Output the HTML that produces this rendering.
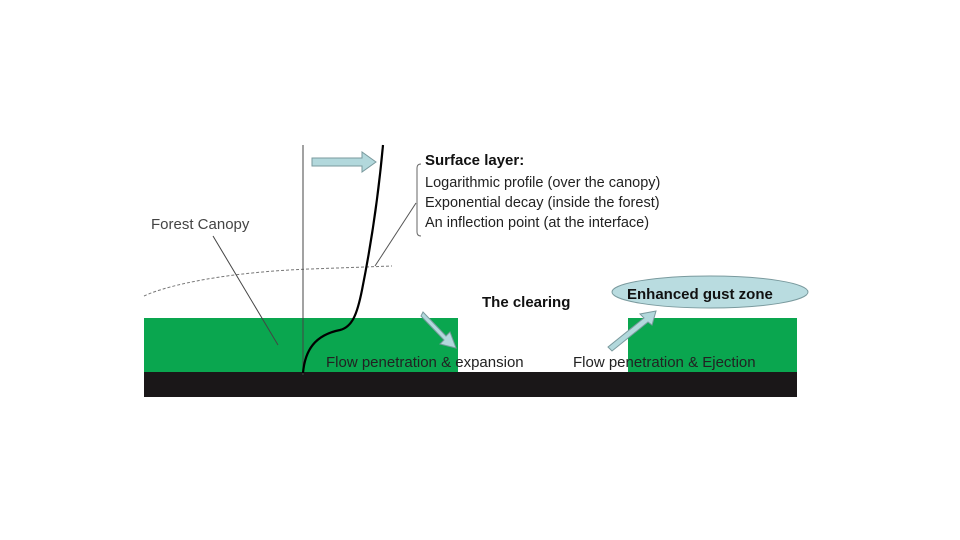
<!DOCTYPE html>
<html><head><style>body{margin:0;background:#fff}svg{display:block}</style></head><body>
<svg width="960" height="540" viewBox="0 0 960 540" font-family="Liberation Sans, sans-serif">
<rect x="144" y="318" width="314" height="54" fill="#0aa64f"/>
<rect x="628" y="318" width="169" height="54" fill="#0aa64f"/>
<rect x="144" y="372" width="653" height="25" fill="#1a1718"/>
<rect x="324" y="350" width="134" height="22" fill="#fff" opacity="0"/>
<path d="M144,296 C170,284 230,272 310,269 L392,266" fill="none" stroke="#777" stroke-dasharray="3,2" stroke-width="1"/>
<line x1="303" y1="145" x2="303" y2="375" stroke="#444" stroke-width="1"/>
<path d="M303,373 C305,350 315,335 340,330 C352,327 357,315 362,290 C370,250 378,200 383,145" fill="none" stroke="#000" stroke-width="2.2"/>
<line x1="213" y1="236" x2="278" y2="345" stroke="#444" stroke-width="1"/>
<line x1="375" y1="266" x2="416" y2="203" stroke="#555" stroke-width="1"/>
<path d="M421,164 Q417,164 417,168 L417,232 Q417,236 421,236" fill="none" stroke="#666" stroke-width="1"/>
<polygon points="312,158 362,158 362,152 376,162 362,172 362,166 312,166" fill="#b2d8dc" stroke="#7a9a9e"/>
<polygon points="423,312 446,336 450,332 456,348 440,344 444,340 421,316" fill="#b2d8dc" stroke="#7a9a9e"/>
<polygon points="608,347 644,318 640,314 656,311 652,325 648,322 612,351" fill="#b2d8dc" stroke="#7a9a9e"/>
<ellipse cx="710" cy="292" rx="98" ry="16" fill="#b9dce0" stroke="#7a9a9e"/>
<text x="425" y="165" font-size="15" font-weight="bold" fill="#111">Surface layer:</text>
<text x="425" y="187" font-size="14.5" fill="#222">Logarithmic profile (over the canopy)</text>
<text x="425" y="207" font-size="14.5" fill="#222">Exponential decay (inside the forest)</text>
<text x="425" y="227" font-size="14.5" fill="#222">An inflection point (at the interface)</text>
<text x="151" y="229" font-size="15" fill="#444">Forest Canopy</text>
<text x="482" y="307" font-size="15" font-weight="bold" fill="#111">The clearing</text>
<text x="627" y="299" font-size="15" font-weight="bold" fill="#111">Enhanced gust zone</text>
<text x="326" y="367" font-size="15" fill="#222">Flow penetration &amp; expansion</text>
<text x="573" y="367" font-size="15" fill="#222">Flow penetration &amp; Ejection</text>
</svg>
</body></html>
